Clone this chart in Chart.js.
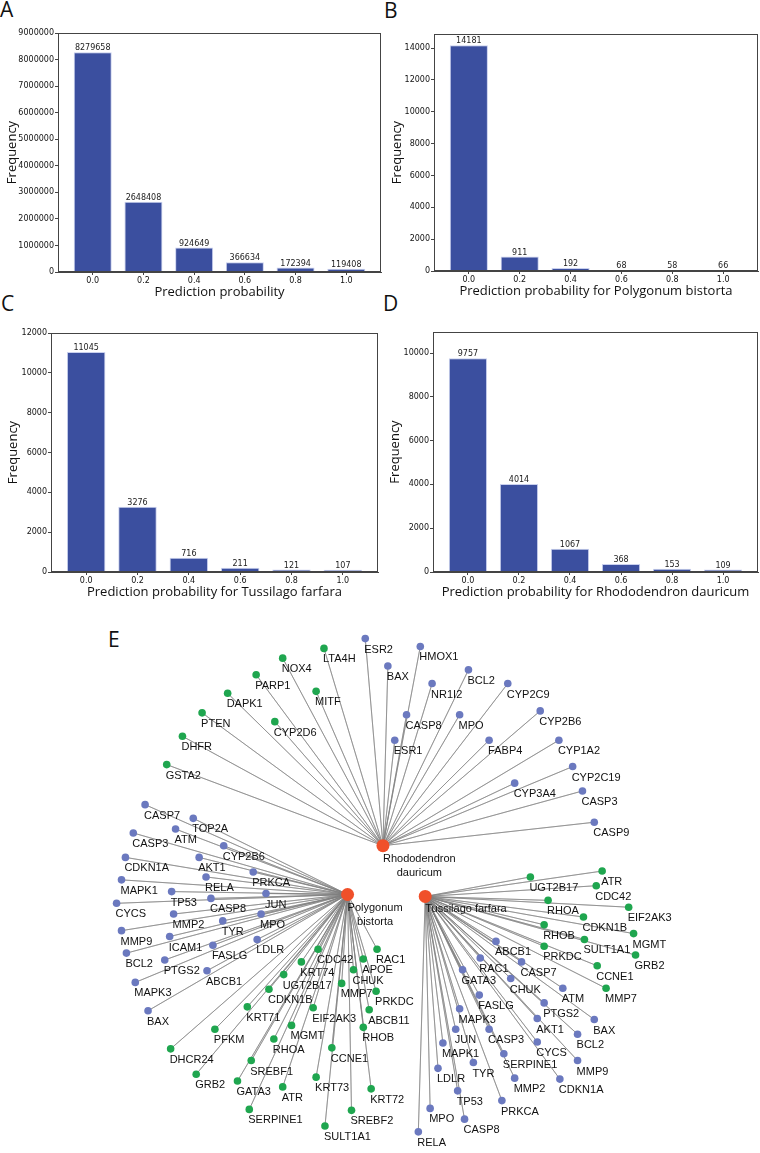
<!DOCTYPE html>
<html>
<head>
<meta charset="utf-8">
<script src="https://cdn.jsdelivr.net/npm/chart.js@4.4.1/dist/chart.umd.min.js"></script>
<style>
  body { margin: 0; background: #fff; width: 760px; height: 1153px; position: relative; overflow: hidden; }
  canvas { position: absolute; }
  .tag { position: absolute; font-family: "Open Sans", sans-serif; font-size: 21px; line-height: 21px; color: #111; }
</style>
</head>
<body>
<div class="tag" style="left:0px;top:-1px">A</div>
<div class="tag" style="left:384px;top:0px">B</div>
<div class="tag" style="left:1px;top:293px">C</div>
<div class="tag" style="left:383px;top:293px">D</div>
<div class="tag" style="left:108px;top:629px">E</div>

<canvas id="chartA" width="384" height="300" style="left:0px;top:0px"></canvas>
<canvas id="chartB" width="380" height="300" style="left:380px;top:0px"></canvas>
<canvas id="chartC" width="380" height="310" style="left:0px;top:290px"></canvas>
<canvas id="chartD" width="380" height="310" style="left:380px;top:290px"></canvas>
<canvas id="chartE" width="760" height="558" style="left:0px;top:595px"></canvas>

<script>
// ---- histogram data ----
const probs = [0.0, 0.2, 0.4, 0.6, 0.8, 1.0];
const freqAll = [8279658, 2648408, 924649, 366634, 172394, 119408];
const freqPolygonum = [14181, 911, 192, 68, 58, 66];
const freqTussilago = [11045, 3276, 716, 211, 121, 107];
const freqRhodo = [9757, 4014, 1067, 368, 153, 109];

// ---- network (layout coordinates), [gene, x, y, type] b = blue, g = green ----
const hubs = [
  ["Rhododendron\ndauricum", 383, 845],
  ["Polygonum\nbistorta", 347, 895],
  ["Tussilago farfara", 426, 897]
];
const rhodoTargets = [
  ["ESR2",365,633,"b"],["LTA4H",323,643,"g"],["NOX4",281,653,"g"],["HMOX1",421,641,"b"],
  ["BAX",388,661,"b"],["BCL2",470,665,"b"],["PARP1",254,670,"g"],["NR1I2",433,679,"b"],
  ["CYP2C9",510,679,"b"],["MITF",315,687,"g"],["DAPK1",225,689,"g"],["CYP2B6",543,707,"b"],
  ["PTEN",199,709,"g"],["CASP8",407,711,"b"],["MPO",461,711,"b"],["CYP2D6",273,718,"g"],
  ["DHFR",179,733,"g"],["ESR1",395,737,"b"],["FABP4",491,737,"b"],["CYP1A2",562,737,"b"],
  ["GSTA2",163,762,"g"],["CYP2C19",576,764,"b"],["CYP3A4",517,781,"b"],["CASP3",586,789,"b"],
  ["CASP9",598,821,"b"]
];
const polygonumTargets = [
  ["CASP7",141,803,"b"],["TOP2A",190,817,"b"],["ATM",172,828,"b"],["CASP3",129,832,"b"],
  ["CYP2B6",221,845,"b"],["AKT1",196,857,"b"],["CDKN1A",121,857,"b"],["PRKCA",251,872,"b"],
  ["RELA",203,877,"b"],["MAPK1",117,880,"b"],["TP53",168,892,"b"],["JUN",264,894,"b"],
  ["CASP8",208,899,"b"],["CYCS",112,904,"b"],["MPO",259,915,"b"],["MMP2",170,915,"b"],
  ["TYR",220,922,"b"],["MMP9",117,932,"b"],["ICAM1",166,938,"b"],["LDLR",255,941,"b"],
  ["FASLG",210,947,"b"],["BCL2",122,955,"b"],["PTGS2",161,962,"b"],["ABCB1",204,973,"b"],
  ["MAPK3",131,985,"b"],["BAX",144,1014,"b"],
  ["CDC42",317,951,"g"],["RAC1",377,951,"g"],["APOE",363,961,"g"],["KRT74",300,964,"g"],
  ["CHUK",353,972,"g"],["UGT2B17",282,977,"g"],["MMP7",341,986,"g"],["CDKN1B",267,992,"g"],
  ["PRKDC",376,994,"g"],["KRT71",245,1010,"g"],["EIF2AK3",312,1011,"g"],["ABCB11",369,1013,"g"],
  ["MGMT",290,1029,"g"],["RHOB",363,1031,"g"],["PFKM",212,1033,"g"],["RHOA",272,1043,"g"],
  ["CCNE1",331,1052,"g"],["DHCR24",167,1053,"g"],["SREBF1",249,1065,"g"],["GRB2",193,1079,"g"],
  ["KRT73",315,1082,"g"],["GATA3",235,1086,"g"],["ATR",281,1092,"g"],["KRT72",371,1094,"g"],
  ["SERPINE1",247,1115,"g"],["SREBF2",351,1116,"g"],["SULT1A1",324,1132,"g"]
];
const tussilagoTargets = [
  ["ATR",606,871,"g"],["UGT2B17",533,877,"g"],["CDC42",600,886,"g"],["RHOA",551,901,"g"],
  ["EIF2AK3",633,908,"g"],["CDKN1B",587,918,"g"],["RHOB",547,926,"g"],["MGMT",638,935,"g"],
  ["SULT1A1",588,941,"g"],["PRKDC",547,948,"g"],["GRB2",640,957,"g"],["CCNE1",601,968,"g"],
  ["MMP7",610,991,"g"],
  ["ABCB1",498,943,"b"],["RAC1",482,960,"b"],["CASP7",524,964,"b"],["GATA3",464,972,"b"],
  ["CHUK",513,981,"b"],["ATM",566,991,"b"],["FASLG",481,998,"b"],["PTGS2",547,1006,"b"],
  ["MAPK3",461,1012,"b"],["AKT1",540,1022,"b"],["BAX",598,1023,"b"],["JUN",457,1033,"b"],
  ["CASP3",491,1033,"b"],["BCL2",581,1038,"b"],["CYCS",540,1046,"b"],["MAPK1",444,1047,"b"],
  ["SERPINE1",506,1058,"b"],["MMP9",581,1065,"b"],["TYR",475,1067,"b"],["LDLR",439,1073,"b"],
  ["MMP2",517,1083,"b"],["CDKN1A",563,1084,"b"],["TP53",459,1096,"b"],["PRKCA",504,1106,"b"],
  ["MPO",431,1114,"b"],["CASP8",466,1125,"b"],["RELA",419,1138,"b"]
];

const BAR_COLOR = "#3b4f9f";
const TICK_FONT = { family: "'DejaVu Sans'", size: 8 };
const TITLE_FONT = { family: "'Open Sans'", size: 13 };

// box around the plot area, like matplotlib spines
const framePlugin = {
  id: "frame",
  afterDatasetsDraw(chart) {
    const a = chart.chartArea, ctx = chart.ctx;
    ctx.save();
    ctx.strokeStyle = "#444";
    ctx.lineWidth = 1;
    ctx.strokeRect(Math.round(a.left) + 0.5, Math.round(a.top) + 0.5,
                   Math.round(a.right - a.left) - 1, Math.round(a.bottom - a.top) - 1);
    ctx.restore();
  }
};

// count written above each bar
const barValuePlugin = {
  id: "barValues",
  afterDatasetsDraw(chart) {
    const ctx = chart.ctx;
    const meta = chart.getDatasetMeta(0);
    const vals = chart.data.datasets[0].data;
    ctx.save();
    ctx.font = "8px 'DejaVu Sans'";
    ctx.fillStyle = "#222";
    ctx.textAlign = "center";
    ctx.textBaseline = "bottom";
    meta.data.forEach((bar, i) => {
      ctx.fillText(String(vals[i].y), bar.x, bar.y);
    });
    ctx.restore();
  }
};

function makeHist(id, values, xTitle, yMax, yStep, box) {
  // box: chart area inside canvas + where the y title sits
  const canvas = document.getElementById(id);
  const W = canvas.width, H = canvas.height;
  const xAxisH = 28;
  const padLeft = box.titleX - 8;
  new Chart(canvas, {
    type: "bar",
    data: {
      datasets: [{
        data: probs.map((p, i) => ({ x: p, y: values[i] })),
        backgroundColor: BAR_COLOR,
        borderColor: "#c9d0ee",
        borderWidth: 1,
        barPercentage: 0.75,
        categoryPercentage: 1
      }]
    },
    options: {
      responsive: false,
      animation: false,
      events: [],
      layout: {
        padding: { left: padLeft, top: box.top, right: W - box.right, bottom: H - box.bottom - xAxisH }
      },
      plugins: { legend: { display: false }, tooltip: { enabled: false } },
      scales: {
        x: {
          type: "linear",
          min: -0.137,
          max: 1.137,
          offset: false,
          grid: { display: true, offset: false, drawOnChartArea: false, tickLength: 3, color: "#444" },
          border: { display: true, color: "#444" },
          afterBuildTicks: s => { s.ticks = probs.map(v => ({ value: v })); },
          afterFit: s => { s.height = xAxisH; },
          ticks: { font: TICK_FONT, color: "#111", padding: 1, maxRotation: 0, callback: v => v.toFixed(1) },
          title: { display: true, text: xTitle, font: TITLE_FONT, color: "#111", padding: 0 }
        },
        y: {
          min: 0,
          max: yMax,
          grid: { display: true, drawOnChartArea: false, tickLength: 3, color: "#444" },
          border: { display: true, color: "#444" },
          afterBuildTicks: s => {
            const t = [];
            for (let v = 0; v <= yMax; v += yStep) t.push({ value: v });
            s.ticks = t;
          },
          afterFit: s => { s.width = box.left - padLeft; },
          ticks: { font: TICK_FONT, color: "#111", padding: 1, callback: v => String(v) },
          title: { display: true, text: "Frequency", font: TITLE_FONT, color: "#111", padding: 0 }
        }
      }
    },
    plugins: [framePlugin, barValuePlugin]
  });
}

makeHist("chartA", freqAll, "Prediction probability", 9000000, 1000000,
  { left: 58, top: 33, right: 381, bottom: 272, titleX: 12 });
makeHist("chartB", freqPolygonum, "Prediction probability for Polygonum bistorta", 14890, 2000,
  { left: 54, top: 34, right: 378, bottom: 271, titleX: 17 });
makeHist("chartC", freqTussilago, "Prediction probability for Tussilago farfara", 12000, 2000,
  { left: 51, top: 43, right: 378, bottom: 282, titleX: 13 });
makeHist("chartD", freqRhodo, "Prediction probability for Rhododendron dauricum", 10960, 2000,
  { left: 53, top: 42, right: 378, bottom: 282, titleX: 15 });

// ---- network panel ----
const BLUE = "#6b79bf", GREEN = "#1fa64f", RED = "#f0502a";
const targetSets = [rhodoTargets, polygonumTargets, tussilagoTargets];

const edgeSets = targetSets.map((list, h) => {
  const hub = { x: hubs[h][1], y: hubs[h][2] };
  const pts = [hub];
  list.forEach(t => { pts.push({ x: t[1], y: t[2] }); pts.push(hub); });
  return {
    data: pts, showLine: true, pointRadius: 0, borderColor: "#808080",
    borderWidth: 0.6, order: 3, fill: false
  };
});
const nodesOf = type => targetSets.flat().filter(t => t[3] === type)
  .map(t => ({ x: t[1], y: t[2], name: t[0] }));

const nodeLabelPlugin = {
  id: "nodeLabels",
  afterDatasetsDraw(chart) {
    const ctx = chart.ctx;
    ctx.save();
    ctx.font = "11px 'Liberation Sans', Arial, sans-serif";
    ctx.fillStyle = "#111";
    ctx.textBaseline = "middle";
    chart.data.datasets.forEach((ds, i) => {
      if (!ds.labelled) return;
      const meta = chart.getDatasetMeta(i);
      meta.data.forEach((pt, j) => {
        const lines = ds.data[j].name.split("\n");
        if (ds.hub) {
          const w0 = ctx.measureText(lines[0]).width;
          ctx.textAlign = "center";
          lines.forEach((ln, k) => ctx.fillText(ln, pt.x + w0 / 2, pt.y + 13 + k * 14.5));
        } else {
          ctx.textAlign = "left";
          ctx.fillText(lines[0], pt.x - 1, pt.y + 11);
        }
      });
    });
    ctx.restore();
  }
};

new Chart(document.getElementById("chartE"), {
  type: "scatter",
  data: {
    datasets: [
      ...edgeSets,
      { data: nodesOf("b"), backgroundColor: BLUE, borderWidth: 0, pointRadius: 3.8, order: 1, labelled: true },
      { data: nodesOf("g"), backgroundColor: GREEN, borderWidth: 0, pointRadius: 3.8, order: 1, labelled: true },
      { data: hubs.map(h => ({ x: h[1], y: h[2], name: h[0] })), backgroundColor: RED, borderWidth: 0,
        pointRadius: 6.5, order: 0, labelled: true, hub: true }
    ]
  },
  options: {
    responsive: false,
    animation: false,
    events: [],
    layout: { padding: 0 },
    plugins: { legend: { display: false }, tooltip: { enabled: false } },
    scales: {
      x: { type: "linear", min: 0, max: 760, display: false },
      y: { type: "linear", min: 595, max: 1153, reverse: true, display: false }
    }
  },
  plugins: [nodeLabelPlugin]
});
</script>
</body>
</html>
